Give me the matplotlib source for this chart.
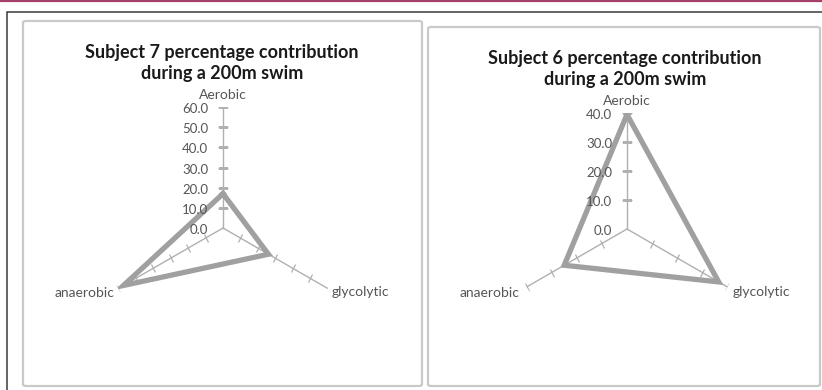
import numpy as np
import matplotlib
matplotlib.use("Agg")
import matplotlib.pyplot as plt
import matplotlib.transforms as mtransforms
from matplotlib.patches import Rectangle, FancyBboxPatch
from matplotlib.lines import Line2D
from matplotlib.markers import MarkerStyle

categories = ["Aerobic", "glycolytic", "anaerobic"]
subject7 = [17.0, 26.0, 57.0]
subject6 = [39.5, 36.5, 25.0]
ticks7 = [0, 10, 20, 30, 40, 50, 60]
ticks6 = [0, 10, 20, 30, 40]
titles = ["Subject 7 percentage contribution\nduring a 200m swim",
          "Subject 6 percentage contribution\nduring a 200m swim"]

W, H = 822, 390
fig = plt.figure(figsize=(W / 100, H / 100), dpi=100)
fig.patch.set_facecolor("white")


def px_box(x0, y0, x1, y1):
    # pixel box (top-left origin) -> figure fraction rect
    return [x0 / W, 1 - y1 / H, (x1 - x0) / W, (y1 - y0) / H]


# page decorations
fig.add_artist(Line2D([0, 1], [1 - 0.8 / H, 1 - 0.8 / H], color="#a3416b", lw=1.6))
fig.add_artist(Rectangle((7 / W, -0.1), 1.1, 1 - 12 / H + 0.1, transform=fig.transFigure,
                         fill=False, ec="#3a3a3a", lw=1.1))
for (x0, y0, x1, y1) in [(23, 21, 422, 386), (428, 27, 820, 386)]:
    fig.add_artist(FancyBboxPatch((x0 / W, 1 - y1 / H), (x1 - x0) / W, (y1 - y0) / H,
                                  boxstyle="round,pad=0,rounding_size=0.004",
                                  transform=fig.transFigure, fill=False,
                                  ec="#c9c9c9", lw=1.6))

axis_col = "#b0b0b0"
text_col = "#555555"
line_col = "#a0a0a0"

panels = [
    dict(vals=subject7, ticks=ticks7, center=(223, 228), rad=121, title=titles[0],
         title_xy=(222, 63), lab_off=[(0, 6), (4, -4), (-4, -4)]),
    dict(vals=subject6, ticks=ticks6, center=(627, 229), rad=116, title=titles[1],
         title_xy=(625, 69), lab_off=[(0, 6), (5, -5), (-7, -6)]),
]

theta = np.deg2rad([0, 120, 240])

for p in panels:
    cx, cy = p["center"]
    r = p["rad"]
    ax = fig.add_axes(px_box(cx - r, cy - r, cx + r, cy + r), projection="polar")
    ax.set_theta_zero_location("N")
    ax.set_theta_direction(-1)
    rmax = p["ticks"][-1]
    ax.set_ylim(0, rmax)
    ax.grid(False)
    ax.set_xticks([])
    ax.set_yticks([])
    ax.spines["polar"].set_visible(False)
    ax.patch.set_alpha(0)

    # spokes with cross ticks
    for th in theta:
        ax.plot([th, th], [0, rmax], color=axis_col, lw=1.0, zorder=2)
        mk = MarkerStyle("_", transform=mtransforms.Affine2D().rotate_deg(180 - np.rad2deg(th)))
        ax.plot([th] * (len(p["ticks"]) - 1), p["ticks"][1:], ls="none", marker=mk,
                ms=7, mew=0.9, color=axis_col, zorder=2)

    # data polygon
    v = p["vals"] + p["vals"][:1]
    t = list(theta) + [theta[0]]
    ax.plot(t, v, color=line_col, lw=3.8, solid_joinstyle="miter", zorder=3)

    # radial tick labels on the Aerobic axis
    off = mtransforms.offset_copy(ax.transData, fig, x=-15, y=-2, units="dots")
    for tk in p["ticks"]:
        ax.text(0, tk, f"{tk:.1f}", transform=off, ha="right", va="center",
                fontsize=9.5, color=text_col, family="Lato", zorder=4)

    # category labels
    aligns = [("center", "bottom"), ("left", "center"), ("right", "center")]
    for th, name, (dx, dy), (ha, va) in zip(theta, categories, p["lab_off"], aligns):
        tr = mtransforms.offset_copy(ax.transData, fig, x=dx, y=dy, units="dots")
        ax.text(th, rmax, name, transform=tr, ha=ha, va=va, fontsize=10,
                color=text_col, family="Lato")

    tx, ty = p["title_xy"]
    fig.text(tx / W, 1 - ty / H, p["title"], ha="center", va="center",
             fontsize=13, fontweight="bold", family="Lato", color="#1a1a1a",
             linespacing=1.3)

fig.savefig("out.png", dpi=100, facecolor="white")
